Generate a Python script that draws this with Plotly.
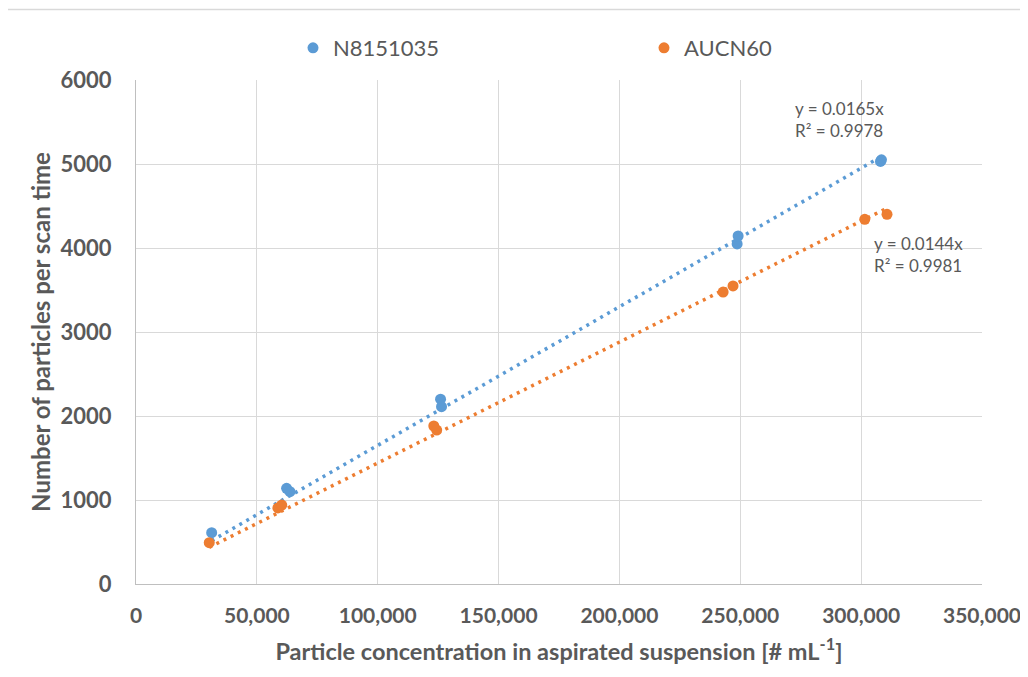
import plotly.graph_objects as go

# Data
n815_x = [31300, 62300, 63700, 126000, 126400, 248700, 249100, 308000, 308400]
n815_y = [611, 1139, 1099, 2200, 2111, 4048, 4143, 5030, 5050]

aucn_x = [30300, 58700, 60300, 123200, 124400, 242900, 247000, 301500, 310700]
aucn_y = [492, 905, 940, 1881, 1833, 3476, 3548, 4342, 4401]

slope_n815 = 0.0165
slope_aucn = 0.0144
r2_n815 = 0.9978
r2_aucn = 0.9981

series_names = ["N8151035", "AUCN60"]
x_ticks = [0, 50000, 100000, 150000, 200000, 250000, 300000, 350000]
y_ticks = [0, 1000, 2000, 3000, 4000, 5000, 6000]

BLUE = "#5b9bd5"
ORANGE = "#ed7d31"
GRAY = "#595959"
FONT = "Lato"

fig = go.Figure()

# Trendlines (dotted) over the data range
for xs, slope, col in [(n815_x, slope_n815, BLUE), (aucn_x, slope_aucn, ORANGE)]:
    x0, x1 = min(xs), max(xs)
    fig.add_trace(go.Scatter(
        x=[x0, x1], y=[slope * x0, slope * x1], mode="lines",
        line=dict(color=col, width=3.5, dash="3px,5px"),
        showlegend=False, hoverinfo="skip"))

fig.add_trace(go.Scatter(x=n815_x, y=n815_y, mode="markers", name=series_names[0],
                         marker=dict(color=BLUE, size=11)))
fig.add_trace(go.Scatter(x=aucn_x, y=aucn_y, mode="markers", name=series_names[1],
                         marker=dict(color=ORANGE, size=11)))

fig.add_annotation(x=271800, y=5524, xref="x", yref="y", xanchor="left", yanchor="middle",
                   align="left", showarrow=False,
                   text=f"y = {slope_n815}x<br>R² = {r2_n815}",
                   font=dict(family=FONT, size=17, color=GRAY))
fig.add_annotation(x=304500, y=3917, xref="x", yref="y", xanchor="left", yanchor="middle",
                   align="left", showarrow=False,
                   text=f"y = {slope_aucn}x<br>R² = {r2_aucn}",
                   font=dict(family=FONT, size=17, color=GRAY))

# page is offset by the 8px body margin; lay out in reference pixels minus 8
OFF = 8
FW, FH = 1028 - OFF, 677 - 2 * OFF
L, T, W, H = 136 - OFF, 80 - OFF, 846, 504


def px(xp):
    return (xp - OFF - L) / W


def py(yp):
    return (T + H - (yp - OFF)) / H


# chart border (left and top lines)
fig.add_shape(type="line", xref="paper", yref="paper", x0=px(7), x1=px(1060), y0=py(9.5), y1=py(9.5),
              line=dict(color="#d9d9d9", width=1.5))
fig.add_shape(type="line", xref="paper", yref="paper", x0=px(7), x1=px(7), y0=py(9.5), y1=py(720),
              line=dict(color="#d9d9d9", width=1.5))

fig.update_layout(
    width=FW, height=FH,
    margin=dict(l=L, r=FW - L - W, t=T, b=FH - T - H, autoexpand=False),
    paper_bgcolor="white", plot_bgcolor="white",
    font=dict(family=FONT, color=GRAY),
    legend=dict(orientation="h", x=px(293), y=py(48), xanchor="left", yanchor="middle",
                font=dict(family=FONT, size=22, color=GRAY),
                entrywidth=306, entrywidthmode="pixels", itemwidth=30,
                bgcolor="rgba(0,0,0,0)"),
    xaxis=dict(range=[0, 350000], tickvals=x_ticks, tickformat=",d",
               showgrid=True, gridcolor="#d9d9d9", gridwidth=1.3,
               showline=True, linecolor="#bfbfbf", linewidth=1.3,
               zeroline=False, ticks="", ticklabelstandoff=13,
               tickfont=dict(family=FONT, size=21, color=GRAY, weight="bold"),
               title=dict(text="Particle concentration in aspirated suspension [# mL<sup>-1</sup>]",
                          font=dict(family=FONT, size=23.5, color=GRAY, weight="bold"), standoff=17),
               automargin=False),
    yaxis=dict(range=[0, 6000], tickvals=y_ticks,
               showgrid=True, gridcolor="#d9d9d9", gridwidth=1.3,
               showline=True, linecolor="#bfbfbf", linewidth=1.3,
               zeroline=False, ticks="", ticklabelstandoff=19,
               tickfont=dict(family=FONT, size=22, color=GRAY, weight="bold"),
               title=dict(text="Number of particles per scan time",
                          font=dict(family=FONT, size=24, color=GRAY, weight="bold"), standoff=3),
               automargin=False),
)
fig.write_html("out.html")
